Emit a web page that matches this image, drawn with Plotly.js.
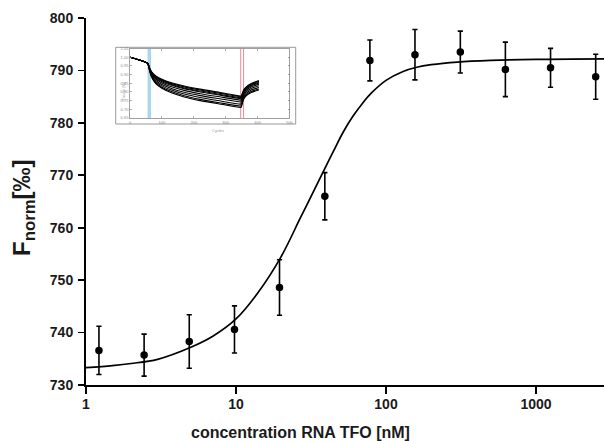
<!DOCTYPE html>
<html>
<head>
<meta charset="utf-8">
<script src="https://cdn.plot.ly/plotly-3.0.1.min.js"></script>
<style>html,body{margin:0;padding:0;background:#fff;}#chart{width:605px;height:441px;}</style>
</head>
<body>
<div id="chart"></div>
<script>
// ---- main data (concentration in nM, Fnorm in ‰) ----
const concentration = [1.22, 2.44, 4.88, 9.77, 19.5, 39.1, 78.1, 156, 313, 625, 1250, 2500];
const fnorm        = [736.6, 735.7, 738.3, 740.6, 748.6, 766.0, 791.9, 793.0, 793.5, 790.2, 790.5, 788.8];
const fnormErr     = [4.6, 4.0, 5.1, 4.5, 5.3, 4.5, 3.9, 4.8, 4.0, 5.2, 3.7, 4.3];

// ---- fitted curve ----
const fitConc = [1, 1.5, 2, 3, 5, 7, 10, 14, 20, 27, 35, 39, 45, 52, 60, 70, 80, 100, 130, 160, 200, 300, 500, 1000, 2840];
const fitVal  = [733.3, 733.7, 734.1, 734.9, 737.2, 739.3, 742.6, 747.6, 754.5, 762.0, 768.5, 771.2, 774.8, 778.3, 781.2, 783.8, 785.7, 788.1, 789.8, 790.6, 791.1, 791.6, 791.9, 792.1, 792.2];

// ---- tick labels ----
const xMajorTicks = [1, 10, 100, 1000];
const xMinorTicks = [2,3,4,5,6,7,8,9,20,30,40,50,60,70,80,90,200,300,400,500,600,700,800,900,2000];
const yTicks = [730, 740, 750, 760, 770, 780, 790, 800];

// ---- inset: MST time traces ----
const insetTime = [0, 55, 58, 62, 68, 80, 100, 130, 170, 220, 280, 346, 349, 352, 356, 365, 380, 404];
const insetTrace1 = [1.000, 0.966, 0.956, 0.936, 0.916, 0.894, 0.873, 0.853, 0.834, 0.816, 0.798, 0.777, 0.779, 0.791, 0.811, 0.831, 0.849, 0.865];
const insetTrace2 = [1.000, 0.966, 0.955, 0.934, 0.913, 0.890, 0.868, 0.848, 0.829, 0.811, 0.793, 0.772, 0.774, 0.787, 0.807, 0.827, 0.845, 0.861];
const insetTrace3 = [1.000, 0.966, 0.955, 0.932, 0.910, 0.886, 0.864, 0.843, 0.823, 0.805, 0.787, 0.767, 0.769, 0.782, 0.802, 0.822, 0.840, 0.856];
const insetTrace4 = [1.000, 0.966, 0.954, 0.930, 0.907, 0.882, 0.859, 0.838, 0.818, 0.800, 0.782, 0.762, 0.764, 0.778, 0.798, 0.818, 0.836, 0.852];
const insetTrace5 = [1.000, 0.966, 0.953, 0.928, 0.903, 0.876, 0.852, 0.830, 0.809, 0.790, 0.772, 0.753, 0.755, 0.770, 0.791, 0.811, 0.829, 0.845];
const insetTrace6 = [1.000, 0.966, 0.952, 0.925, 0.898, 0.868, 0.843, 0.820, 0.798, 0.779, 0.761, 0.742, 0.744, 0.760, 0.782, 0.802, 0.820, 0.836];
const insetTrace7 = [1.000, 0.966, 0.951, 0.922, 0.893, 0.861, 0.835, 0.811, 0.788, 0.768, 0.749, 0.730, 0.732, 0.749, 0.772, 0.793, 0.811, 0.826];
const insetTrace8 = [1.000, 0.966, 0.950, 0.919, 0.888, 0.854, 0.827, 0.802, 0.778, 0.757, 0.738, 0.719, 0.721, 0.739, 0.763, 0.785, 0.803, 0.817];
const insetTrace9 = [1.000, 0.966, 0.949, 0.917, 0.884, 0.849, 0.821, 0.795, 0.771, 0.750, 0.731, 0.711, 0.713, 0.732, 0.757, 0.779, 0.797, 0.811];
const insetTraces = [insetTrace1, insetTrace2, insetTrace3, insetTrace4, insetTrace5, insetTrace6, insetTrace7, insetTrace8, insetTrace9];
const insetXTicks = [0, 100, 200, 300, 400, 500];
const insetYTicks = [0.65, 0.70, 0.75, 0.80, 0.85, 0.90, 0.95, 1.00, 1.05];
const coldRegion = [55, 66];
const hotLines = [347, 356];

const FONT = 'Liberation Sans, Arial, Helvetica, sans-serif';
const xr = [0, Math.log10(2840)];
const yr = [730, 800];

const traces = [
  {
    x: fitConc, y: fitVal, type: 'scatter', mode: 'lines',
    line: {color: '#000', width: 1.7, shape: 'spline', smoothing: 1},
    hoverinfo: 'skip', showlegend: false
  },
  {
    x: concentration, y: fnorm, type: 'scatter', mode: 'markers',
    marker: {color: '#000', size: 7.5},
    error_y: {type: 'data', array: fnormErr, visible: true, color: '#000', thickness: 1.6, width: 2.6},
    showlegend: false
  }
];

insetTraces.forEach(tr => {
  traces.push({
    x: insetTime, y: tr, xaxis: 'x4', yaxis: 'y4', type: 'scatter', mode: 'lines',
    line: {color: '#000', width: 1.1, shape: 'spline', smoothing: 0.6},
    hoverinfo: 'skip', showlegend: false
  });
});

const tickFont = {family: FONT, size: 14, color: '#1a1a1a', weight: 'bold'};
const insetFont = {family: FONT, size: 4, color: '#888'};

// inset geometry in paper coords (plot area: 86..604 px, 18..385 px)
const px = v => (v - 86) / 518;
const py = v => (385 - v) / 367;

const layout = {
  width: 605, height: 441,
  margin: {l: 86, r: 1, t: 18, b: 56},
  paper_bgcolor: '#fff', plot_bgcolor: '#fff',
  showlegend: false,
  xaxis: {
    type: 'log', range: xr, tickvals: xMajorTicks, ticktext: xMajorTicks.map(String),
    ticks: 'outside', ticklen: 7, tickwidth: 1.8, tickcolor: '#000',
    showline: true, linewidth: 2, linecolor: '#000', showgrid: false, zeroline: false,
    tickfont: tickFont, anchor: 'y', ticklabelstandoff: -2
  },
  xaxis2: {
    type: 'log', range: xr, overlaying: 'x', anchor: 'y', side: 'bottom',
    tickvals: xMinorTicks, ticks: 'outside', ticklen: 4, tickwidth: 1.5, tickcolor: '#000',
    showticklabels: false, showline: false, showgrid: false, zeroline: false
  },
  xaxis3: {
    type: 'log', range: xr, overlaying: 'x', anchor: 'y', side: 'top',
    tickvals: xMajorTicks, ticks: 'inside', ticklen: 6, tickwidth: 1.8, tickcolor: '#000',
    showticklabels: false, showline: true, linewidth: 2, linecolor: '#000', showgrid: false, zeroline: false
  },
  xaxis5: {
    type: 'log', range: xr, overlaying: 'x', anchor: 'y', side: 'top',
    tickvals: xMinorTicks, ticks: 'inside', ticklen: 3.5, tickwidth: 1.5, tickcolor: '#000',
    showticklabels: false, showline: false, showgrid: false, zeroline: false
  },
  yaxis: {
    range: yr, tickvals: yTicks, ticks: 'outside', ticklen: 6, tickwidth: 1.8, tickcolor: '#000',
    showline: true, linewidth: 2, linecolor: '#000', showgrid: false, zeroline: false,
    tickfont: tickFont, anchor: 'x', ticklabelstandoff: 2
  },
  yaxis2: {
    range: yr, overlaying: 'y', side: 'right', anchor: 'x', tickvals: yTicks,
    ticks: 'inside', ticklen: 4, tickwidth: 1.8, tickcolor: '#000',
    showticklabels: false, showline: true, linewidth: 2, linecolor: '#000', showgrid: false, zeroline: false
  },
  xaxis4: {
    domain: [px(130), px(289.5)], anchor: 'y4', range: [0, 500], tickvals: insetXTicks,
    ticks: 'inside', ticklen: 2, tickwidth: 0.6, tickcolor: '#777', mirror: 'ticks',
    showline: true, linewidth: 0.8, linecolor: '#888', showgrid: false, zeroline: false,
    tickfont: insetFont, ticklabelstandoff: 0
  },
  yaxis4: {
    domain: [py(118), py(48.5)], anchor: 'x4', range: [0.65, 1.05], tickvals: insetYTicks,
    ticktext: insetYTicks.map(v => v.toFixed(2)),
    ticks: 'inside', ticklen: 2, tickwidth: 0.6, tickcolor: '#777', mirror: 'ticks',
    showline: true, linewidth: 0.8, linecolor: '#888', showgrid: false, zeroline: false,
    tickfont: insetFont
  },
  shapes: [
    {type: 'rect', xref: 'paper', yref: 'paper', x0: px(115.7), x1: px(295.7), y0: py(124), y1: py(47.3),
     line: {color: '#999', width: 1}, fillcolor: 'rgba(0,0,0,0)', layer: 'below'},
    {type: 'rect', xref: 'x4', yref: 'y4', x0: coldRegion[0], x1: coldRegion[1], y0: 0.65, y1: 1.05,
     line: {width: 0}, fillcolor: '#a9d8ea', layer: 'below'},
    {type: 'line', xref: 'x4', yref: 'y4', x0: hotLines[0], x1: hotLines[0], y0: 0.65, y1: 1.05,
     line: {color: '#f08a9a', width: 1}, layer: 'below'},
    {type: 'line', xref: 'x4', yref: 'y4', x0: hotLines[1], x1: hotLines[1], y0: 0.65, y1: 1.05,
     line: {color: '#f08a9a', width: 1}, layer: 'below'}
  ],
  annotations: [
    {text: '<b>concentration RNA TFO [nM]</b>', xref: 'paper', yref: 'paper',
     x: px(300), y: py(432), xanchor: 'center', yanchor: 'middle', showarrow: false,
     font: {family: FONT, size: 16, color: '#1a1a1a'}},
    {text: '<b>F<sub>norm</sub>[‰]</b>', xref: 'paper', yref: 'paper',
     x: px(23), y: py(208), xanchor: 'center', yanchor: 'middle', showarrow: false, textangle: -90,
     font: {family: FONT, size: 24, color: '#1a1a1a'}},
    {text: 'Fnorm [‰]', xref: 'paper', yref: 'paper', x: px(118.5), y: py(80), showarrow: false,
     textangle: -90, font: {family: FONT, size: 4, color: '#999'}},
    {text: 'Cycles', xref: 'paper', yref: 'paper', x: px(210), y: py(126), showarrow: false,
     font: {family: FONT, size: 4, color: '#999'}}
  ]
};

Plotly.newPlot('chart', traces, layout, {staticPlot: true, displayModeBar: false});
</script>
</body>
</html>
